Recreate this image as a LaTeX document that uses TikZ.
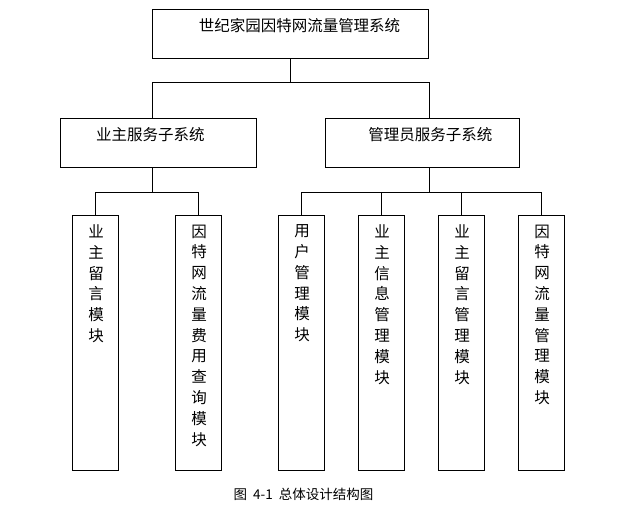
\documentclass[tikz,border=0pt]{standalone}
\usepackage{fontspec}
\setmainfont{Noto Sans CJK SC}
\usetikzlibrary{positioning}

\tikzset{
  sysbox/.style={draw, line width=1pt, inner sep=0pt, minimum height=49pt},
  leafbox/.style={draw, line width=1pt, inner sep=0pt, minimum width=46pt, minimum height=255pt},
  boxtext/.style={inner sep=0pt, font=\fontsize{15.5}{18}\selectfont},
  leaftext/.style={anchor=north, inner sep=0pt, yshift=-10pt, xshift=1pt, align=center,
    font=\fontsize{15.5}{20.8}\selectfont},
  conn/.style={line width=1pt}
}

\begin{document}
\begin{tikzpicture}[x=1pt, y=-1pt]
  \useasboundingbox (0,0) rectangle (641,509);
  % top level
  \node[sysbox, minimum width=276pt,
    label={[boxtext, xshift=8.7pt, yshift=8pt]center:世纪家园因特网流量管理系统}]
    (root) at (290.8,33.8) {};
  % subsystems
  \node[sysbox, minimum width=195.5pt,
    label={[boxtext, xshift=-8pt, yshift=8pt]center:业主服务子系统}]
    (owner) at (158.4,142.8) {};
  \node[sysbox, minimum width=194.3pt,
    label={[boxtext, xshift=7.7pt, yshift=8pt]center:管理员服务子系统}]
    (admin) at (422.6,142.8) {};
  % modules
  \node[leafbox, label={[leaftext]north:业\\主\\留\\言\\模\\块}] (owmsg) at (95,342.5) {};
  \node[leafbox, label={[leaftext]north:因\\特\\网\\流\\量\\费\\用\\查\\询\\模\\块}] (flowq) at (198,342.5) {};
  \node[leafbox, label={[leaftext]north:用\\户\\管\\理\\模\\块}] (usermg) at (301,342.5) {};
  \node[leafbox, label={[leaftext]north:业\\主\\信\\息\\管\\理\\模\\块}] (ownerinfo) at (381,342.5) {};
  \node[leafbox, label={[leaftext]north:业\\主\\留\\言\\管\\理\\模\\块}] (ownermsg) at (461,342.5) {};
  \node[leafbox, label={[leaftext]north:因\\特\\网\\流\\量\\管\\理\\模\\块}] (flowmg) at (541,342.5) {};

  % connectors
  \coordinate (topbus) at (0,82);
  \coordinate (lowbus) at (0,192);
  \draw[conn] (root.south) -- (root.south |- topbus);
  \draw[conn] (root.south west |- owner.north) |- (root.south east |- topbus)
    -- (root.south east |- admin.north);
  \draw[conn] (root.south west |- owner.south) -- (root.south west |- lowbus);
  \draw[conn] (owmsg.north) |- (flowq.north |- lowbus) -- (flowq.north);
  \draw[conn] (root.south east |- admin.south) -- (root.south east |- lowbus);
  \draw[conn] (usermg.north) |- (flowmg.north |- lowbus) -- (flowmg.north);
  \draw[conn] (ownerinfo.north) -- (ownerinfo.north |- lowbus);
  \draw[conn] (ownermsg.north) -- (ownermsg.north |- lowbus);

  % caption
  \node[font=\fontsize{13.5}{16}\selectfont, inner sep=0pt] (caption) at (303.5,494)
    {图\hspace{6pt}4-1\hspace{6pt}总体设计结构图};
\end{tikzpicture}
\end{document}
